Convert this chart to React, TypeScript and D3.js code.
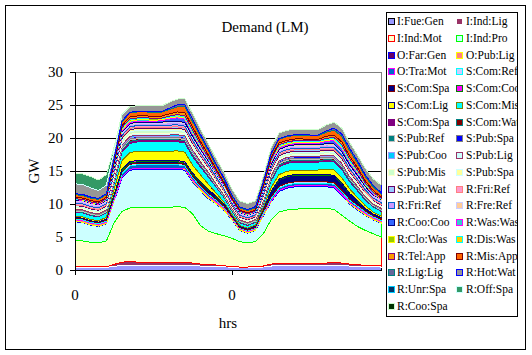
import React from "react";
import * as d3 from "d3";

// ---------- DATA ----------
const seriesNames = ["I:Fue:Gen","I:Ind:Lig","I:Ind:Mot","I:Ind:Pro","O:Far:Gen","O:Pub:Lig","O:Tra:Mot","S:Com:Ref","S:Com:Spa","S:Com:Coo","S:Com:Lig","S:Com:Mis","S:Com:Spa","S:Com:Wat","S:Pub:Ref","S:Pub:Spa","S:Pub:Coo","S:Pub:Lig","S:Pub:Mis","S:Pub:Spa","S:Pub:Wat","R:Fri:Ref","R:Fri:Ref","R:Fre:Ref","R:Coo:Coo","R:Was:Was","R:Clo:Was","R:Dis:Was","R:Tel:App","R:Mis:App","R:Lig:Lig","R:Hot:Wat","R:Unr:Spa","R:Off:Spa","R:Coo:Spa"];

const fillColors = ["#9999FF","#993366","#FFFFCC","#CCFFFF","#660066","#FF8080","#0066CC","#CCCCFF","#000080","#FF00FF","#FFFF00","#00FFFF","#800080","#800000","#008080","#0000FF","#00CCFF","#CCFFFF","#CCFFCC","#FFFF99","#99CCFF","#FF99CC","#CC99FF","#FFCC99","#3366FF","#33CCCC","#99CC00","#FFCC00","#FF9900","#FF6600","#666699","#969696","#003366","#339966","#003300"];
const borderColors = ["#000000","#FFFFFF","#FF0000","#00FF00","#0000FF","#FFFF00","#FF00FF","#00FFFF","#800000","#008000","#000080","#808000","#800080","#008080","#C0C0C0","#808080","#9999FF","#993366","#FFFFCC","#CCFFFF","#660066","#FF8080","#0066CC","#CCCCFF","#000080","#FF00FF","#FFFF00","#00FFFF","#800080","#800000","#008080","#0000FF","#00CCFF","#CCFFFF","#CCFFCC"];

const xTickIndex = [0, 20];
const xTickLabels = ["0", "0"];
const yTicks = [0, 5, 10, 15, 20, 25, 30];

const iFueGen = [.4,.4,.4,.4,.4, .55,.7, .75,.75,.75,.75,.75, .75,.75,.75, .7,.6,.6,.55,.5, .4,.35,.35,.4, .45,.6,.7, .7,.7,.7,.7,.7, .7,.75,.7, .6,.55,.5,.5,.45];
const iIndLig = [.15,.15,.1,.1,.1, .3,.5, .5,.45,.35,.35,.35, .4,.45,.4, .35,.3,.25,.2,.15, .1,.1,.1,.1, .15,.3,.35, .3,.3,.3,.3,.3, .35,.4,.35, .3,.25,.2,.2,.15];
const iIndMot = [3.95,3.85,3.7,3.6,3.9, 6.35,7.7, 8.15,8.3,8.4,8.4,8.4, 8.35,8.4,8.35, 7.45,5.8,5.05,4.75,4.55, 4.3,3.85,3.65,3.8, 4.9,6.7,7.75, 8.1,8.2,8.3,8.3,8.3, 8.25,8.05,7.25, 6.5,5.8,5.3,4.8,4.4];
const iIndPro = [2.8,2.8,2.6,2.5,2.6, 3.3,5.1, 5.7,5.8,5.8,5.8,5.8, 5.8,5.7,5.6, 4.8,5.3,4.9,4.5,3.8, 2.8,1.7,1.5,1.7, 2.7,2.7,3.1, 3.3,3.4,3.3,3.3,3.3, 3.3,3.3,3.0, 2.6,2.5,2.3,2.1,2.1];
const oFarGen = [.05,.05,.05,.05,.05, .1,.15, .15,.15,.15,.15,.15, .15,.15,.15, .15,.1,.1,.05,.05, .05,.05,.05,.05, .05,.1,.15, .15,.15,.15,.15,.15, .15,.15,.15, .1,.1,.05,.05,.05];
const oPubLig = [.25,.25,.25,.25,.2, .05,0, 0,0,0,0,0, 0,0,.05, .15,.2,.25,.25,.25, .2,.2,.2,.2, .2,.05,0, 0,0,0,0,0, 0,0,.05, .15,.2,.25,.25,.25];
const oTraMot = [.1,.1,.1,.1,.15, .3,.5, .5,.5,.5,.5,.5, .5,.5,.45, .4,.35,.3,.25,.2, .15,.1,.1,.1, .2,.35,.35, .35,.35,.35,.35,.35, .35,.35,.35, .3,.25,.2,.15,.15];
const sComRef = [.15,.15,.15,.15,.15, .2,.25, .25,.25,.25,.25,.25, .25,.25,.25, .2,.2,.2,.15,.15, .1,.1,.1,.1, .2,.25,.25, .25,.25,.25,.25,.25, .25,.25,.25, .2,.2,.15,.15,.15];
const sComSpa = [.1,.1,.1,.1,.15, .2,.2, .2,.2,.2,.2,.2, .2,.2,.2, .3,.45,.5,.4,.3, .2,.15,.15,.2, .3,.8,1.0, 1.0,1.0,1.0,1.0,1.0, 1.0,1.0,1.0, .8,.6,.4,.3,.25];
const sComCoo = [0,0,0,0,0, .1,.2, .2,.2,.2,.2,.2, .2,.2,.2, .15,.1,.05,.05,0, 0,0,0,0, 0,.05,.1, .1,.1,.1,.1,.1, .1,.1,.1, .05,.05,0,0,0];
const sComLig = [.2,.2,.2,.2,.3, .8,1.3, 1.4,1.4,1.4,1.4,1.4, 1.4,1.45,1.45, 1.2,1.0,.8,.5,.3, .15,.15,.15,.15, .3,.6,.7, .7,.7,.7,.7,.7, .75,.8,.8, .7,.5,.4,.3,.25];
const sComMis = [.6,.6,.6,.6,.65, .9,1.3, 1.4,1.4,1.4,1.4,1.4, 1.4,1.4,1.4, 1.3,1.2,1.1,.9,.7, .5,.4,.4,.4, .5,1.0,1.2, 1.2,1.2,1.2,1.2,1.2, 1.25,1.25,1.25, 1.1,1.0,.85,.75,.7];
const sComSpa2 = [.1,.1,.1,.1,.1, .2,.3, .3,.3,.3,.3,.3, .3,.3,.3, .3,.25,.2,.15,.1, .1,.1,.1,.1, .15,.25,.25, .25,.25,.25,.25,.25, .25,.25,.25, .2,.2,.15,.1,.1];
const sComWat = [.1,.1,.1,.1,.1, .15,.2, .2,.2,.2,.2,.2, .2,.2,.2, .2,.15,.15,.1,.1, .1,.1,.1,.1, .15,.2,.2, .2,.2,.2,.2,.2, .2,.2,.2, .2,.15,.15,.1,.1];
const sPubRef = [.15,.15,.15,.15,.15, .15,.15, .15,.15,.15,.15,.15, .15,.15,.15, .15,.15,.15,.15,.15, .15,.15,.15,.15, .15,.15,.15, .15,.15,.15,.15,.15, .15,.15,.15, .15,.15,.15,.15,.15];
const sPubSpa = [.1,.1,.1,.1,.1, .15,.2, .2,.2,.2,.2,.2, .2,.2,.2, .2,.15,.15,.1,.1, .1,.1,.1,.1, .15,.2,.2, .2,.2,.2,.2,.2, .2,.2,.2, .15,.15,.1,.1,.1];
const sPubCoo = [0,0,0,0,0, .1,.2, .2,.2,.2,.2,.2, .2,.2,.2, .15,.1,.05,0,0, 0,0,0,0, 0,.05,.1, .1,.1,.1,.1,.1, .1,.1,.1, .05,.05,0,0,0];
const sPubLig = [.2,.2,.2,.2,.2, .25,.3, .3,.3,.3,.3,.3, .3,.3,.3, .3,.25,.25,.2,.2, .15,.15,.15,.15, .2,.25,.25, .25,.25,.25,.25,.25, .25,.25,.25, .25,.2,.2,.2,.2];
const sPubMis = [.25,.25,.25,.25,.25, .3,.4, .4,.4,.4,.4,.4, .4,.4,.4, .4,.35,.3,.3,.25, .15,.15,.15,.15, .25,.3,.3, .3,.3,.3,.3,.3, .3,.3,.3, .3,.3,.25,.25,.2];
const sPubSpa2 = [.1,.1,.1,.1,.15, .25,.3, .3,.3,.3,.3,.3, .3,.3,.3, .3,.25,.2,.15,.1, .1,.1,.1,.1, .15,.2,.2, .2,.2,.2,.2,.2, .2,.2,.2, .2,.15,.15,.1,.1];
const sPubWat = [.1,.1,.1,.1,.1, .15,.2, .2,.2,.2,.2,.2, .2,.2,.2, .2,.15,.15,.1,.1, .1,.1,.1,.1, .15,.2,.2, .2,.2,.2,.2,.2, .2,.2,.2, .15,.15,.1,.1,.1];
const rFriRef = [.25,.25,.25,.25,.25, .25,.25, .25,.25,.25,.25,.25, .3,.3,.3, .3,.3,.3,.25,.25, .2,.2,.2,.2, .25,.25,.25, .25,.25,.25,.25,.25, .3,.3,.3, .3,.3,.3,.25,.25];
const rFriRef2 = [.3,.3,.3,.3,.3, .3,.3, .3,.3,.3,.3,.3, .35,.35,.35, .35,.35,.3,.3,.3, .25,.25,.25,.25, .3,.3,.3, .3,.3,.3,.3,.3, .35,.35,.35, .35,.35,.3,.3,.3];
const rFreRef = [.2,.2,.2,.2,.2, .2,.2, .2,.2,.2,.2,.2, .2,.2,.2, .2,.2,.2,.2,.2, .15,.15,.15,.15, .2,.2,.2, .2,.2,.2,.2,.2, .2,.2,.2, .2,.2,.2,.2,.2];
const rCooCoo = [.05,.05,.05,.05,.1, .25,.25, .15,.15,.15,.15,.2, .35,.5,.5, .4,.3,.2,.1,.05, .05,.05,.05,.05, .2,.25,.2, .15,.15,.15,.15,.2, .35,.5,.5, .4,.3,.2,.1,.05];
const rWasWas = [.05,.05,.05,.05,.05, .1,.15, .2,.2,.2,.15,.15, .15,.15,.15, .15,.15,.1,.1,.05, .05,.05,.05,.05, .1,.15,.2, .2,.2,.2,.15,.15, .15,.15,.15, .15,.15,.1,.1,.05];
const rCloWas = [.05,.05,.05,.05,.05, .1,.15, .2,.2,.2,.2,.15, .15,.15,.15, .15,.15,.1,.1,.05, .05,.05,.05,.05, .1,.15,.2, .2,.2,.2,.2,.15, .15,.15,.15, .15,.15,.1,.1,.05];
const rDisWas = [.05,.05,.05,.05,.05, .1,.15, .15,.1,.1,.1,.1, .15,.2,.25, .25,.2,.15,.1,.05, .05,.05,.05,.05, .1,.15,.15, .1,.1,.1,.1,.1, .15,.2,.25, .25,.2,.15,.1,.05];
const rTelApp = [.2,.2,.2,.2,.2, .25,.3, .3,.3,.3,.3,.3, .35,.4,.45, .45,.4,.35,.3,.25, .15,.15,.15,.15, .2,.25,.25, .25,.25,.25,.25,.25, .3,.35,.4, .4,.35,.3,.25,.2];
const rMisApp = [.4,.4,.4,.4,.4, .45,.55, .6,.6,.6,.6,.6, .65,.75,.85, .85,.75,.65,.55,.45, .35,.35,.35,.35, .45,.55,.55, .55,.55,.55,.55,.55, .6,.75,.85, .85,.75,.65,.55,.45];
const rLigLig = [.15,.15,.15,.15,.15, .15,.15, .1,.1,.1,.1,.1, .2,.3,.35, .35,.3,.25,.2,.2, .15,.15,.15,.15, .15,.15,.1, .1,.1,.1,.1,.1, .2,.3,.35, .35,.3,.25,.2,.2];
const rHotWat = [1.5,1.5,1.4,1.2,1.3, 1.1,.9, .85,.85,.85,.85,.85, .9,.9,.9, .9,.85,.85,.85,.9, .9,.9,.9,.9, .85,.85,.85, .85,.85,.85,.85,.85, .9,.9,.9, .9,.9,1.0,1.05,1.15];
const rUnrSpa = [0,0,0,0,0, 0,0, 0,0,0,0,0, 0,0,0, 0,0,0,0,0, 0,0,0,0, 0,0,0, 0,0,0,0,0, 0,0,0, 0,0,0,0,0];
const rOffSpa = [1.5,1.6,1.7,1.6,1.6, .6,.15, 0,0,0,0,0, 0,0,0, 0,0,0,0,0, 0,0,0,0, 0,0,0, 0,0,0,0,0, 0,0,0, 0,0,0,0,0];
const rCooSpa = [0,0,0,0,0, 0,0, 0,0,0,0,0, 0,0,0, 0,0,0,0,0, 0,0,0,0, 0,0,0, 0,0,0,0,0, 0,0,0, 0,0,0,0,0];

const seriesValues = [iFueGen,iIndLig,iIndMot,iIndPro,oFarGen,oPubLig,oTraMot,sComRef,sComSpa,sComCoo,sComLig,sComMis,sComSpa2,sComWat,sPubRef,sPubSpa,sPubCoo,sPubLig,sPubMis,sPubSpa2,sPubWat,rFriRef,rFriRef2,rFreRef,rCooCoo,rWasWas,rCloWas,rDisWas,rTelApp,rMisApp,rLigLig,rHotWat,rUnrSpa,rOffSpa,rCooSpa];

// ---------- LAYOUT ----------
const W = 532, H = 355;
const plot = { left: 75, right: 381, top: 72, bottom: 270 };
const FONT = "'Liberation Serif', 'Times New Roman', serif";

export default function App() {
  const n = seriesValues[0].length;
  const keys = seriesValues.map((_, i) => "s" + i);
  const table = d3.range(n).map((t) => {
    const row: Record<string, number> = { t };
    seriesValues.forEach((arr, i) => (row["s" + i] = arr[t]));
    return row;
  });
  const stacked = d3.stack<Record<string, number>>().keys(keys)(table);

  const x = d3.scaleLinear().domain([0, n - 1]).range([plot.left, plot.right]);
  const y = d3.scaleLinear().domain([0, 30]).range([plot.bottom, plot.top]);

  const area = d3
    .area<d3.SeriesPoint<Record<string, number>>>()
    .x((d) => x(d.data.t))
    .y0((d) => y(d[0]))
    .y1((d) => y(d[1]));

  const legendLeft = 386, legendTop = 12, legendRight = 517, legendBottom = 316;
  const rowH = 16.76, row0 = 21;
  const colMarker = [388, 456];
  const colText = [397, 466];

  return (
    <svg width={W} height={H} style={{ position: "absolute", left: 0, top: 0, background: "#fff" }} fontFamily={FONT}>
      <defs>
        <clipPath id="plotclip">
          <rect x={plot.left} y={plot.top - 1} width={plot.right - plot.left + 1} height={plot.bottom - plot.top + 1} />
        </clipPath>
        <clipPath id="legclip">
          <rect x={legendLeft} y={legendTop} width={legendRight - legendLeft} height={legendBottom - legendTop} />
        </clipPath>
      </defs>
      <rect x={5.5} y={5.5} width={520} height={344} fill="#fff" stroke="#000" strokeWidth={1} />

      <text x={265} y={32} textAnchor="middle" fontSize={15} fill="#000">Demand (LM)</text>

      {/* gridlines */}
      {yTicks.map((v) => (
        <line key={v} x1={plot.left} x2={plot.right} y1={y(v) + 0.5} y2={y(v) + 0.5} stroke={v === 30 ? "#808080" : "#000"} strokeWidth={1} />
      ))}
      <line x1={plot.right + 0.5} x2={plot.right + 0.5} y1={plot.top} y2={plot.bottom} stroke="#808080" />

      {/* areas */}
      <g clipPath="url(#plotclip)">
        {stacked.map((s, i) => (
          <path key={i} d={area(s) || ""} fill={fillColors[i]} stroke={borderColors[i]} strokeWidth={1} shapeRendering="crispEdges" />
        ))}
      </g>

      {/* axes */}
      <line x1={plot.left + 0.5} x2={plot.left + 0.5} y1={plot.top} y2={plot.bottom + 5} stroke="#000" />
      <line x1={plot.left - 5} x2={plot.right + 1} y1={plot.bottom + 0.5} y2={plot.bottom + 0.5} stroke="#000" />
      {yTicks.map((v) => (
        <g key={v}>
          <line x1={plot.left - 5} x2={plot.left} y1={y(v) + 0.5} y2={y(v) + 0.5} stroke="#000" />
          <text x={63} y={y(v) + 5} textAnchor="end" fontSize={15} fill="#000">{v}</text>
        </g>
      ))}
      {xTickIndex.map((ti, k) => (
        <g key={k}>
          <line x1={Math.round(x(ti)) + 0.5} x2={Math.round(x(ti)) + 0.5} y1={plot.bottom} y2={plot.bottom + 5} stroke="#000" />
          <text x={x(ti)} y={300} textAnchor="middle" fontSize={15} fill="#000">{xTickLabels[k]}</text>
        </g>
      ))}
      <text x={228} y={328} textAnchor="middle" fontSize={15} fill="#000">hrs</text>
      <text transform="translate(39,171) rotate(-90)" textAnchor="middle" fontSize={15} fill="#000">GW</text>

      {/* legend */}
      <rect x={legendLeft + 0.5} y={legendTop + 0.5} width={legendRight - legendLeft} height={legendBottom - legendTop} fill="#fff" stroke="#000" />
      <g clipPath="url(#legclip)">
        {seriesNames.map((name, i) => {
          const r = Math.floor(i / 2), c = i % 2;
          const cy = row0 + r * rowH;
          return (
            <g key={i}>
              <rect x={colMarker[c] + 0.5} y={Math.round(cy - 3) + 0.5} width={6} height={6} fill={fillColors[i]} stroke={borderColors[i]} strokeWidth={1} />
              <text x={colText[c]} y={cy + 4} fontSize={11.5} fill="#000">{name}</text>
            </g>
          );
        })}
      </g>
    </svg>
  );
}
